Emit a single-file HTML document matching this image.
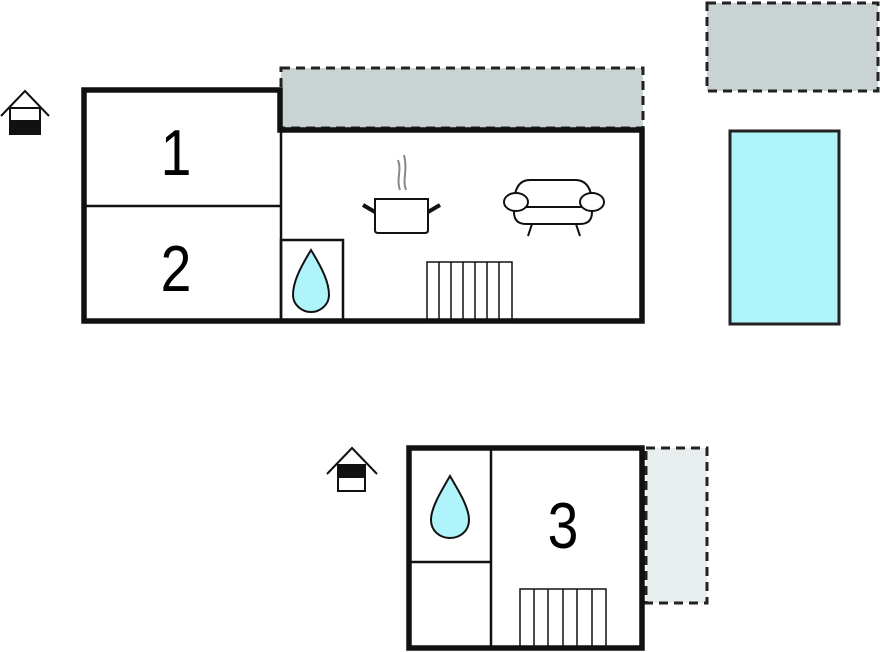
<!DOCTYPE html>
<html><head><style>body{margin:0;background:#fff}svg{display:block}</style></head><body>
<svg width="880" height="652" viewBox="0 0 880 652" xmlns="http://www.w3.org/2000/svg" font-family="Liberation Sans, sans-serif">
<rect x="707" y="3" width="171" height="88" fill="#c9d3d3" stroke="#222" stroke-width="3" stroke-dasharray="9,6"/>
<rect x="730" y="131" width="109" height="193" fill="#aef4fa" stroke="#222" stroke-width="3"/>
<rect x="281" y="68" width="362" height="60" fill="#c9d3d3" stroke="#222" stroke-width="3" stroke-dasharray="9,6"/>
<path d="M84 90 H280 V130 H642 V321 H84 Z" fill="#fff" stroke="#111" stroke-width="5.5"/>
<line x1="84" y1="206" x2="280" y2="206" stroke="#111" stroke-width="2.5"/>
<line x1="281" y1="130" x2="281" y2="321" stroke="#111" stroke-width="2.5"/>
<rect x="281" y="240" width="62" height="81" fill="none" stroke="#111" stroke-width="2.5"/>
<path d="M311 250 C300 268 293 282 293 295 C293 305 302 312 311 312 C320 312 329 305 329 295 C329 282 322 268 311 250 Z" fill="#aef4fa" stroke="#111" stroke-width="2"/>
<text transform="translate(176 175) scale(0.85 1)" font-size="65" text-anchor="middle">1</text>
<text transform="translate(176 291) scale(0.85 1)" font-size="65" text-anchor="middle">2</text>
<g stroke="#111" stroke-width="1.5" fill="none">
<rect x="427" y="262" width="85" height="59"/>
<line x1="439" y1="262" x2="439" y2="321"/><line x1="451" y1="262" x2="451" y2="321"/><line x1="463" y1="262" x2="463" y2="321"/><line x1="475" y1="262" x2="475" y2="321"/><line x1="487" y1="262" x2="487" y2="321"/><line x1="499" y1="262" x2="499" y2="321"/>
</g>
<g stroke="#111" stroke-width="2" fill="#fff">
<path d="M375 199 H428 V230 Q428 233 425 233 H378 Q375 233 375 230 Z"/>
<line x1="375" y1="212" x2="363" y2="205" stroke-width="4"/>
<line x1="428" y1="212" x2="440" y2="205" stroke-width="4"/>
</g>
<path d="M400 190 C396 180 402 170 398 160 M406 190 C402 180 408 170 404 155" stroke="#888" stroke-width="2" fill="none"/>
<g stroke="#111" stroke-width="2" fill="#fff">
<path d="M514 205 Q514 180 530 180 H575 Q592 180 592 205 V212 Q592 224 580 224 H526 Q514 224 514 212 Z"/>
<line x1="520" y1="207" x2="588" y2="207"/>
<ellipse cx="516" cy="202" rx="12" ry="9"/>
<ellipse cx="592" cy="202" rx="12" ry="9"/>
<line x1="532" y1="224" x2="528" y2="236"/><line x1="576" y1="224" x2="580" y2="236"/>
</g>
<g stroke="#111" stroke-width="2" fill="none">
<path d="M1 116 L25 91 L49 116"/>
<rect x="10" y="108" width="30" height="26" fill="#fff"/>
</g>
<rect x="10" y="120" width="31" height="15" fill="#111"/>
<rect x="646" y="448" width="61" height="155" fill="#e8eeee" stroke="#222" stroke-width="3" stroke-dasharray="9,6"/>
<rect x="409" y="448" width="233" height="200" fill="#fff" stroke="#111" stroke-width="5.5"/>
<line x1="491" y1="448" x2="491" y2="648" stroke="#111" stroke-width="2.5"/>
<line x1="409" y1="562" x2="491" y2="562" stroke="#111" stroke-width="2.5"/>
<path d="M450 476 C440 493 431 508 431 520 C431 531 440 538 450 538 C460 538 469 531 469 520 C469 508 460 493 450 476 Z" fill="#aef4fa" stroke="#111" stroke-width="2"/>
<text transform="translate(563 548) scale(0.85 1)" font-size="65" text-anchor="middle">3</text>
<g stroke="#111" stroke-width="1.5" fill="none">
<rect x="520" y="589" width="86" height="60"/>
<line x1="534" y1="589" x2="534" y2="649"/><line x1="548" y1="589" x2="548" y2="649"/><line x1="563" y1="589" x2="563" y2="649"/><line x1="577" y1="589" x2="577" y2="649"/><line x1="592" y1="589" x2="592" y2="649"/>
</g>
<g stroke="#111" stroke-width="2" fill="none">
<path d="M327 474 L352 448 L377 474"/>
<rect x="338" y="465" width="27" height="26" fill="#fff"/>
</g>
<rect x="338" y="465" width="28" height="13" fill="#111"/>
</svg>
</body></html>
